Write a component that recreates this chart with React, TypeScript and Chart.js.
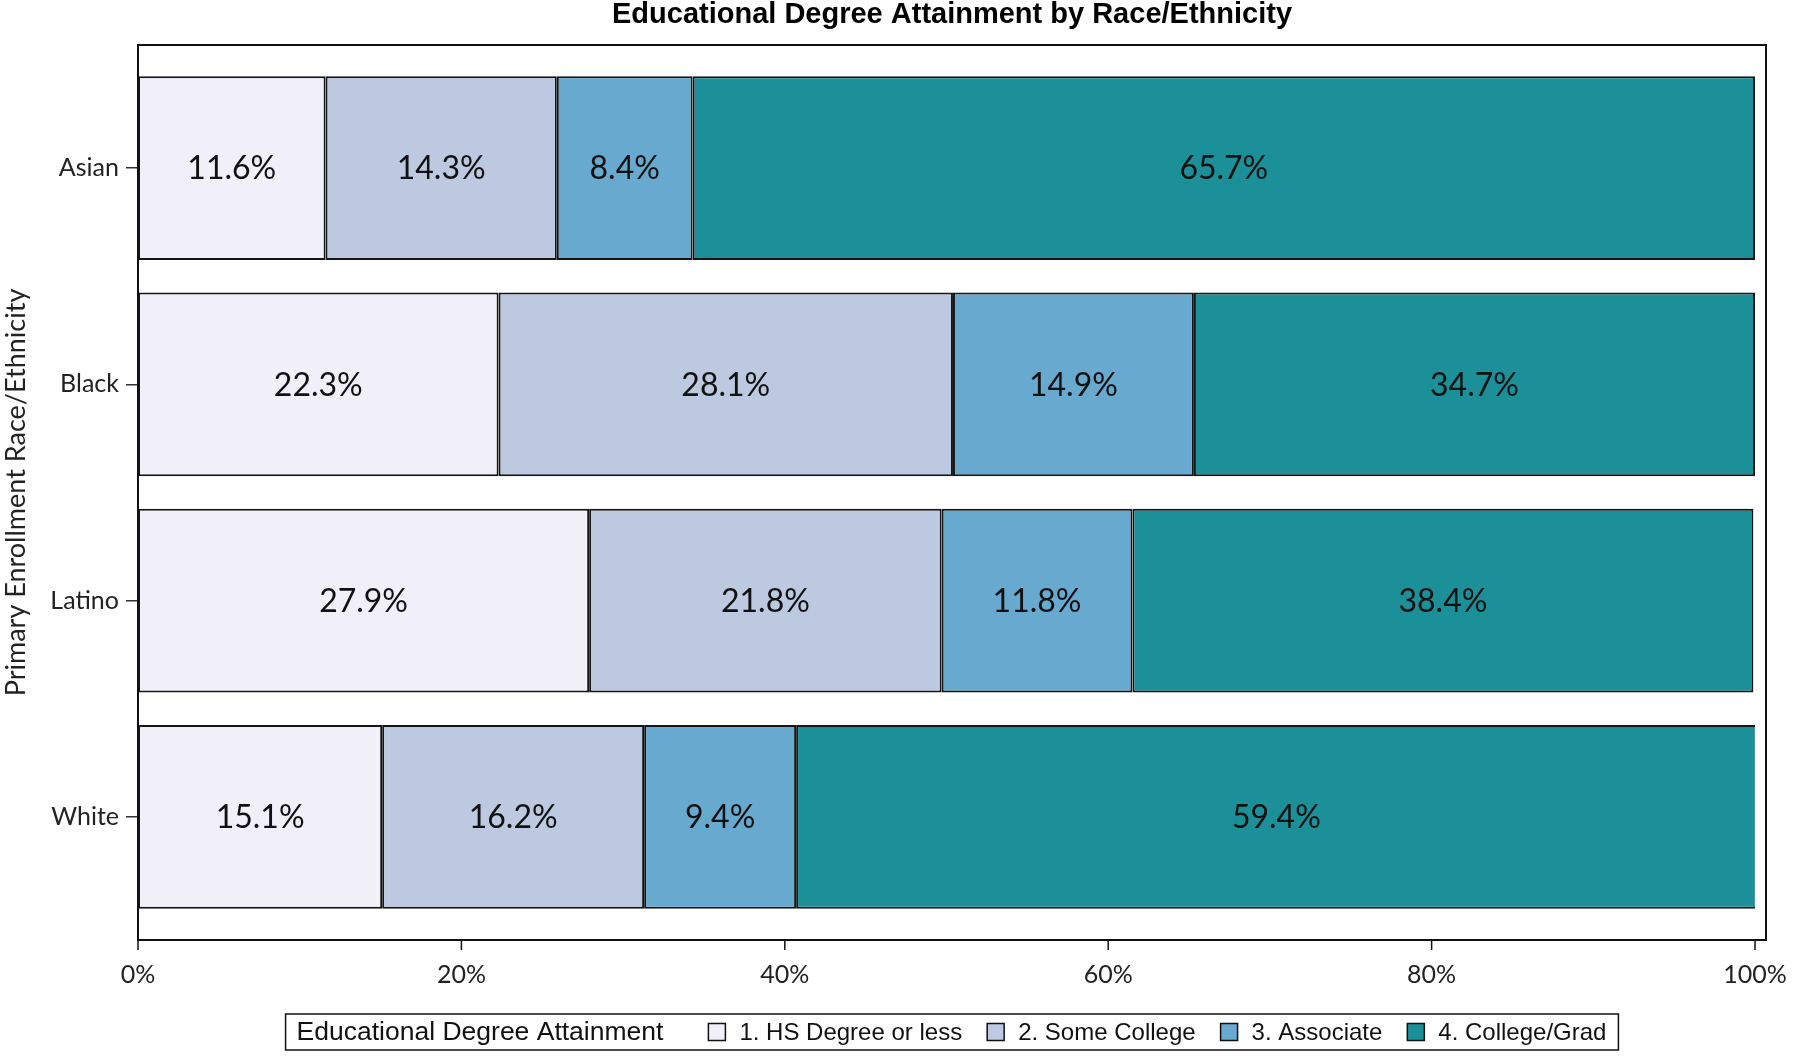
import React, { useEffect, useRef } from 'react';
import { Chart, registerables } from 'chart.js';

Chart.register(...registerables);

const TITLE = 'Educational Degree Attainment by Race/Ethnicity';
const Y_TITLE = 'Primary Enrollment Race/Ethnicity';
const LEGEND_TITLE = 'Educational Degree Attainment';
const CATEGORIES = ['Asian', 'Black', 'Latino', 'White'];
const SERIES_NAMES = ['1. HS Degree or less', '2. Some College', '3. Associate', '4. College/Grad'];
const HS_DEGREE = [11.6, 22.3, 27.9, 15.1];
const SOME_COLLEGE = [14.3, 28.1, 21.8, 16.2];
const ASSOCIATE = [8.4, 14.9, 11.8, 9.4];
const COLLEGE_GRAD = [65.7, 34.7, 38.4, 59.4];
const X_TICK_STEP = 20;
const COLORS = ['#f1eff7', '#bdc9e1', '#67a9cf', '#1c9099'];

const SANS = '"Liberation Sans", Arial, sans-serif';
const HUMAN = 'Lato, "Open Sans", sans-serif';

// frame extends beyond the chart area
const FRAME_PAD = { top: 15, bottom: 15, right: 11 };

const framePlugin = {
  id: 'framePlugin',
  afterDatasetsDraw(chart: any) {
    const ctx = chart.ctx;
    ctx.save();
    ctx.font = `32px ${HUMAN}`;
    ctx.fillStyle = '#111';
    ctx.textAlign = 'center';
    ctx.textBaseline = 'middle';
    chart.data.datasets.forEach((ds: any, di: number) => {
      const meta = chart.getDatasetMeta(di);
      meta.data.forEach((el: any, i: number) => {
        const v = ds.data[i];
        const cx = (el.x + el.base) / 2;
        ctx.fillText(v.toFixed(1) + '%', cx, el.y + 1);
      });
    });
    ctx.restore();
  },
  afterDraw(chart: any) {
    const ctx = chart.ctx;
    const ca = chart.chartArea;
    const left = ca.left;
    const right = ca.right + FRAME_PAD.right;
    const top = ca.top - FRAME_PAD.top;
    const bottom = ca.bottom + FRAME_PAD.bottom;
    ctx.save();
    ctx.strokeStyle = '#111';
    ctx.lineWidth = 2;
    ctx.strokeRect(left, top, right - left, bottom - top);
    const xs = chart.scales.x;
    ctx.lineWidth = 1.5;
    xs.ticks.forEach((t: any) => {
      const px = xs.getPixelForValue(t.value);
      ctx.beginPath();
      ctx.moveTo(px, bottom);
      ctx.lineTo(px, bottom + 10);
      ctx.stroke();
    });
    const cx = (left + right) / 2;
    ctx.fillStyle = '#000';
    ctx.font = `bold 29px ${SANS}`;
    ctx.textAlign = 'center';
    ctx.textBaseline = 'middle';
    ctx.fillText(TITLE, cx, 15);

    // legend
    const titleFont = `26.5px ${SANS}`;
    const itemFont = `24px ${SANS}`;
    const sw = 17;
    ctx.font = titleFont;
    const titleW = ctx.measureText(LEGEND_TITLE).width;
    ctx.font = itemFont;
    const names = chart.data.datasets.map((d: any) => d.label);
    const widths = names.map((n: string) => ctx.measureText(n).width);
    const padL = 11, padR = 12, gapTitle = 45, gapSw = 14, gapItem = 25;
    let total = padL + titleW + gapTitle + padR;
    widths.forEach((w: number, i: number) => {
      total += sw + gapSw + w + (i < widths.length - 1 ? gapItem : 0);
    });
    const bx = cx - total / 2;
    const by = 1014;
    const bh = 36;
    const my = by + bh / 2;
    ctx.lineWidth = 1.5;
    ctx.strokeStyle = '#111';
    ctx.strokeRect(bx, by, total, bh);
    ctx.textAlign = 'left';
    ctx.fillStyle = '#111';
    let x = bx + padL;
    ctx.font = titleFont;
    ctx.fillText(LEGEND_TITLE, x, my + 1);
    x += titleW + gapTitle;
    ctx.font = itemFont;
    chart.data.datasets.forEach((d: any, i: number) => {
      ctx.fillStyle = d.backgroundColor;
      ctx.fillRect(x, my - sw / 2, sw, sw);
      ctx.strokeStyle = '#111';
      ctx.lineWidth = 1.5;
      ctx.strokeRect(x, my - sw / 2, sw, sw);
      x += sw + gapSw;
      ctx.fillStyle = '#111';
      ctx.fillText(names[i], x, my + 1);
      x += widths[i] + gapItem;
    });
    ctx.restore();
  },
};

export default function App() {
  const ref = useRef<HTMLCanvasElement | null>(null);
  useEffect(() => {
    if (!ref.current) return;
    const series = [HS_DEGREE, SOME_COLLEGE, ASSOCIATE, COLLEGE_GRAD];
    const chart = new Chart(ref.current, {
      type: 'bar',
      data: {
        labels: CATEGORIES,
        datasets: series.map((d, i) => ({
          label: SERIES_NAMES[i],
          data: d,
          backgroundColor: COLORS[i],
          borderColor: '#151515',
          borderWidth: 2,
          borderSkipped: false,
          categoryPercentage: 1,
          barPercentage: 0.85,
        })),
      },
      options: {
        indexAxis: 'y',
        responsive: false,
        animation: false,
        layout: { padding: { top: 60, right: 45, bottom: 0, left: 0 } },
        plugins: {
          legend: { display: false },
          title: { display: false },
          tooltip: { enabled: false },
        },
        scales: {
          x: {
            type: 'linear',
            stacked: true,
            min: 0,
            max: 100,
            ticks: {
              stepSize: X_TICK_STEP,
              callback: (v: any) => v + '%',
              padding: 35,
              font: { family: HUMAN, size: 25 },
              color: '#222',
              maxRotation: 0,
              autoSkip: false,
            },
            grid: { display: false, drawTicks: false },
            border: { display: false },
            afterFit: (s: any) => {
              s.height = 136;
              s.paddingLeft = 0;
              s.paddingRight = 0;
            },
          },
          y: {
            type: 'category',
            stacked: true,
            grid: {
              display: true,
              offset: false,
              drawOnChartArea: false,
              drawTicks: true,
              tickLength: 12,
              color: '#333',
              lineWidth: 1.5,
            },
            border: { display: false },
            ticks: {
              padding: 7,
              font: { family: HUMAN, size: 25 },
              color: '#222',
            },
            title: {
              display: true,
              text: Y_TITLE,
              font: { family: HUMAN, size: 27 },
              color: '#222',
              padding: { top: 0, bottom: 0 },
            },
            afterFit: (s: any) => {
              s.width = 138;
            },
          },
        },
      },
      plugins: [framePlugin],
    } as any);
    return () => chart.destroy();
  }, []);
  return (
    <div style={{ position: 'absolute', left: 0, top: 0, width: 1800, height: 1061, background: '#fff' }}>
      <canvas ref={ref} width={1800} height={1061} style={{ display: 'block' }} />
    </div>
  );
}
